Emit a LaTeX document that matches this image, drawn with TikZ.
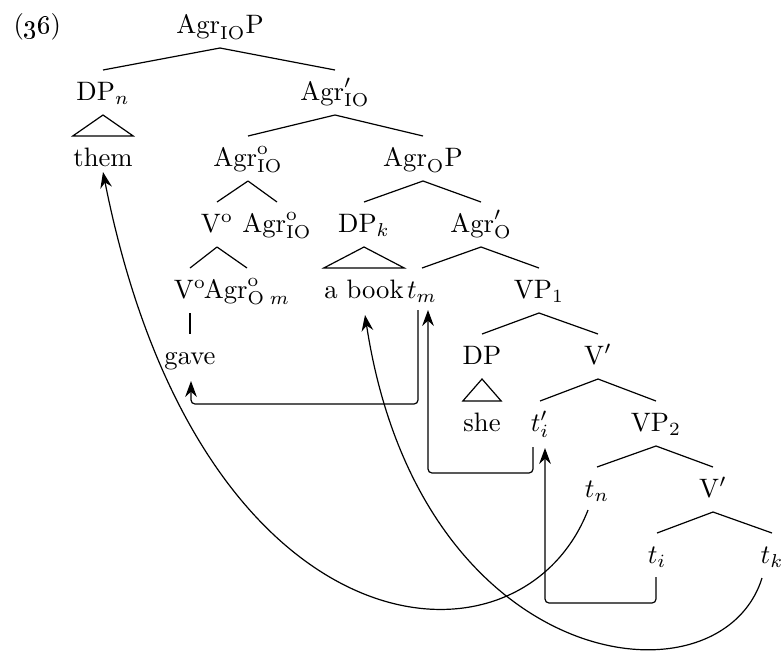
\documentclass[tikz,border=0pt]{standalone}
\usepackage{amsmath}
\usetikzlibrary{calc, arrows.meta}

\tikzset{
	lbl/.style={inner sep=0pt, anchor=base},
	move/.style={->, rounded corners=1.5pt},
}

\begin{document}
\begin{tikzpicture}[x=0.375pt, y=-0.375pt, line width=0.45pt,
		>={Stealth[length=6pt, width=4.4pt, inset=2pt]}]
		\useasboundingbox (0,0) rectangle (782,653);

		\node[lbl, anchor=base west] (ex) at (13,33) {(\oldstylenums{36})};

		% the tree
		\node[lbl] (root) at (220,33) {$\mathrm{Agr}_{\mathrm{IO}}\mathrm{P}$};
		\node[lbl] (dp-n) at (103,100) {$\mathrm{DP}_n$};
		\node[lbl] (agrio-bar) at (335,100) {$\mathrm{Agr}'_{\mathrm{IO}}$};
		\node[lbl] (them) at (103,166) {them};
		\node[lbl] (agrio-head) at (248,166) {$\mathrm{Agr}^{\mathrm{o}}_{\mathrm{IO}}$};
		\node[lbl] (agro-p) at (423,166) {$\mathrm{Agr}_{\mathrm{O}}\mathrm{P}$};
		\node[lbl] (v-head) at (217,232) {$\mathrm{V}^{\mathrm{o}}$};
		\node[lbl] (agrio-low) at (277,232) {$\mathrm{Agr}^{\mathrm{o}}_{\mathrm{IO}}$};
		\node[lbl] (dp-k) at (364,232) {$\mathrm{DP}_k$};
		\node[lbl] (agro-bar) at (481,232) {$\mathrm{Agr}'_{\mathrm{O}}$};
		\node[lbl] (v-low) at (190,298) {$\mathrm{V}^{\mathrm{o}}$};
		\node[lbl] (agro-head) at (247,298) {$\mathrm{Agr}^{\mathrm{o}}_{\mathrm{O}\;m}$};
		\node[lbl] (a-book) at (364,298) {a book};
		\node[lbl] (t-m) at (422,298) {$t_m$};
		\node[lbl] (vp-one) at (539,298) {$\mathrm{VP}_1$};
		\node[lbl] (gave) at (190,364) {gave};
		\node[lbl] (dp) at (482,364) {DP};
		\node[lbl] (v-bar) at (598,364) {$\mathrm{V}'$};
		\node[lbl] (she) at (482,431) {she};
		\node[lbl] (t-i-prime) at (540,431) {$t'_i$};
		\node[lbl] (vp-two) at (656,431) {$\mathrm{VP}_2$};
		\node[lbl] (t-n) at (597,497) {$t_n$};
		\node[lbl] (v-bar-low) at (713,497) {$\mathrm{V}'$};
		\node[lbl] (t-i) at (657,563) {$t_i$};
		\node[lbl] (t-k) at (772,563) {$t_k$};

		\foreach \p/\c in {root/dp-n, root/agrio-bar,
				agrio-bar/agrio-head, agrio-bar/agro-p,
				agrio-head/v-head, agrio-head/agrio-low,
				agro-p/dp-k, agro-p/agro-bar,
				v-head/v-low, v-head/agro-head,
				agro-bar/t-m, agro-bar/vp-one, v-low/gave,
				vp-one/dp, vp-one/v-bar,
				v-bar/t-i-prime, v-bar/vp-two,
				vp-two/t-n, vp-two/v-bar-low,
				v-bar-low/t-i, v-bar-low/t-k}
			\draw ($(\p.base)+(0,15)$) -- ($(\c.base)+(0,-30)$);

		% roofs
		\foreach \p/\c in {dp-n/them, dp-k/a-book, dp/she}
			\draw ($(\p.base)+(0,15)$) -- ($(\c.base west)+(0,-30)$)
				-- ($(\c.base east)+(0,-30)$) -- cycle;

		% movement
		\draw[move] ($(t-m.base)+(-4,12)$) -- ++(0,94)
			-| ($(gave.base)+(1,17)$);
		\draw[move] ($(t-i-prime.base)+(-7,16)$) -- ++(0,26)
			-| ($(t-m.base)+(6,12)$);
		\draw[move] ($(t-i.base)+(-1,14)$) -- ++(0,26)
			-| ($(t-i-prime.base)+(5,17)$);
		\draw[->] ($(t-n.base)+(-9,13)$)
			.. controls (520,685) and (200,660) .. ($(them.base)+(0,6)$);
		\draw[->] ($(t-k.base)+(-10,15)$)
			.. controls (720,712) and (420,675) .. ($(a-book.base)+(1,17)$);
	\end{tikzpicture}
\end{document}
